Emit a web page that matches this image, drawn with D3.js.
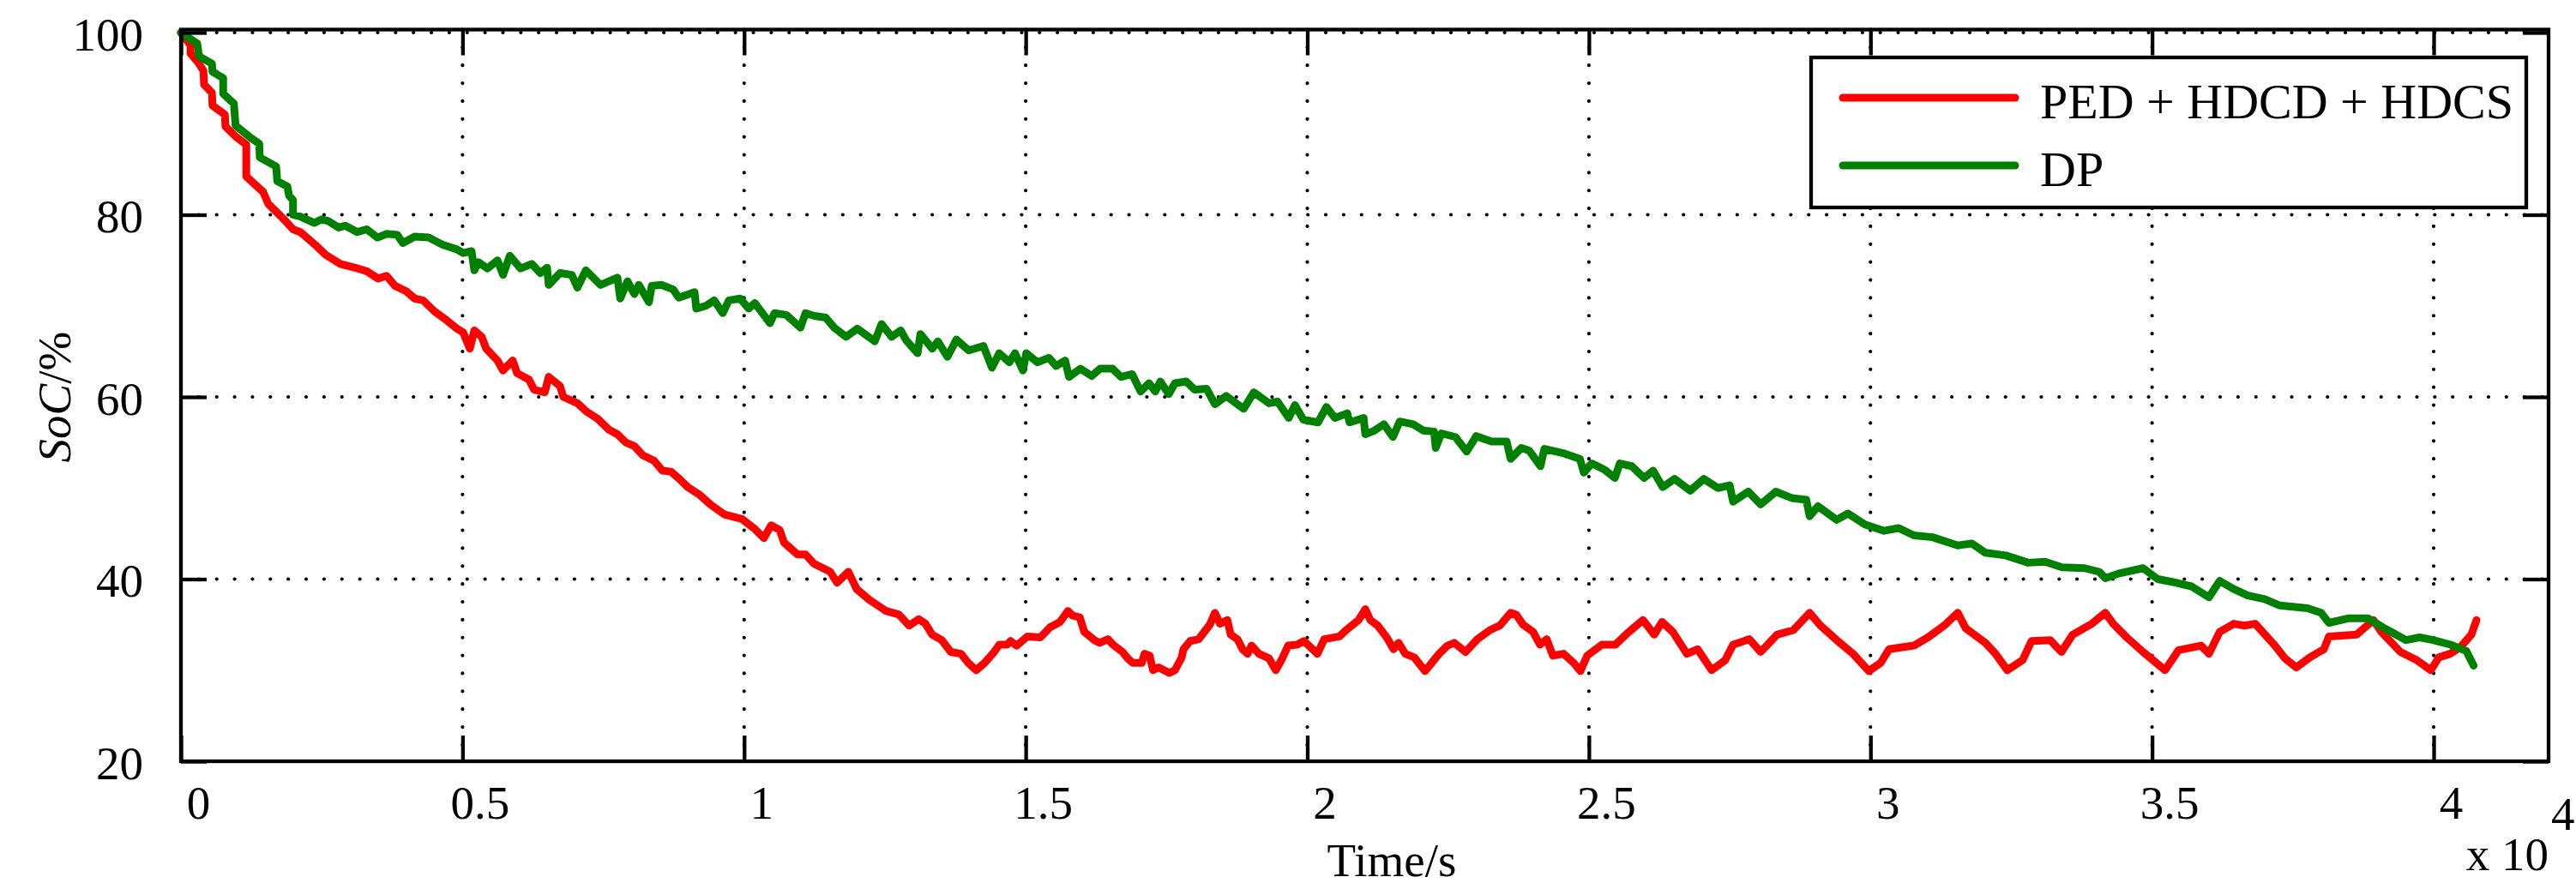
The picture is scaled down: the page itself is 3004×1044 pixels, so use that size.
<!DOCTYPE html>
<html>
<head>
<meta charset="utf-8">
<script src="https://cdn.jsdelivr.net/npm/d3@7"></script>
<style>
  html, body { margin: 0; padding: 0; background: #fff; }
  svg { display: block; }
  text { font-family: "Liberation Serif", "Times New Roman", serif; fill: #000; }
</style>
</head>
<body>
<svg id="chart" width="3004" height="1044"></svg>
<script>
// ---------------- data (time in units of 1e4 s, SoC in %) ----------------
const seriesNames = ["PED + HDCD + HDCS", "DP"];
const seriesColors = ["#ff0000", "#008000"];

const pedTime = [0.000,0.017,0.017,0.032,0.040,0.041,0.055,0.056,0.078,0.079,0.097,0.116,0.116,0.146,0.155,0.186,0.199,0.212,0.242,0.257,0.283,0.314,0.330,0.350,0.365,0.380,0.400,0.415,0.430,0.450,0.470,0.490,0.501,0.513,0.521,0.534,0.542,0.562,0.572,0.589,0.597,0.618,0.627,0.646,0.653,0.673,0.679,0.704,0.720,0.740,0.760,0.775,0.790,0.805,0.820,0.840,0.855,0.870,0.885,0.900,0.920,0.940,0.965,0.996,1.019,1.035,1.048,1.063,1.071,1.095,1.109,1.124,1.153,1.165,1.185,1.200,1.223,1.240,1.252,1.275,1.293,1.310,1.322,1.334,1.351,1.367,1.385,1.398,1.412,1.427,1.444,1.453,1.467,1.473,1.484,1.503,1.526,1.543,1.561,1.575,1.583,1.596,1.604,1.622,1.631,1.646,1.655,1.672,1.681,1.690,1.706,1.711,1.720,1.726,1.736,1.755,1.765,1.777,1.780,1.792,1.807,1.817,1.827,1.836,1.845,1.858,1.864,1.876,1.885,1.894,1.901,1.914,1.932,1.944,1.954,1.966,1.982,1.994,2.018,2.030,2.057,2.069,2.091,2.103,2.112,2.125,2.141,2.153,2.162,2.174,2.190,2.209,2.234,2.249,2.261,2.281,2.302,2.324,2.342,2.361,2.371,2.383,2.401,2.413,2.425,2.436,2.455,2.473,2.485,2.497,2.523,2.547,2.569,2.596,2.616,2.630,2.649,2.674,2.693,2.718,2.742,2.756,2.785,2.805,2.834,2.863,2.892,2.911,2.940,2.969,2.997,3.018,3.033,3.077,3.102,3.131,3.155,3.169,3.204,3.222,3.243,3.270,3.286,3.319,3.339,3.359,3.393,3.417,3.431,3.455,3.484,3.523,3.547,3.587,3.601,3.620,3.645,3.664,3.683,3.718,3.736,3.756,3.780,3.805,3.814,3.863,3.893,3.907,3.941,3.970,3.995,4.009,4.029,4.047,4.067,4.076];
const pedSoC  = [100.0,98.6,97.7,96.6,95.8,94.3,93.4,92.0,91.0,89.7,88.6,87.7,84.2,82.5,81.2,79.3,78.4,78.1,76.5,75.6,74.6,74.1,73.8,73.0,73.3,72.2,71.6,70.8,70.6,69.4,68.5,67.5,67.1,65.3,67.3,66.6,65.3,64.0,62.9,64.0,62.6,61.9,60.8,60.5,62.2,61.2,60.0,59.3,58.4,57.6,56.4,55.9,55.0,54.6,53.6,53.0,51.9,51.8,51.0,50.1,49.3,48.2,47.1,46.6,45.5,44.5,45.9,45.4,44.0,42.7,42.7,41.7,40.8,39.6,40.8,38.9,37.7,37.0,36.5,36.1,34.9,35.6,35.1,33.9,33.3,32.0,31.8,30.8,30.0,30.8,32.0,32.8,32.8,33.2,32.7,33.7,33.6,34.7,35.3,36.5,36.0,35.8,34.2,33.3,33.0,33.4,32.8,32.0,31.3,30.8,30.8,31.8,31.6,30.0,30.3,29.7,30.0,31.4,32.3,33.2,33.4,34.2,35.0,36.3,35.1,35.5,33.9,33.4,32.3,31.8,32.7,31.8,31.3,30.0,31.1,32.7,32.8,33.2,31.8,33.4,33.7,34.4,35.5,36.7,35.5,34.9,33.6,32.3,33.0,31.8,31.4,29.9,31.8,32.7,33.0,32.0,33.4,34.4,34.9,36.3,36.1,35.0,34.2,32.8,33.4,31.6,31.8,30.8,29.9,31.6,32.8,32.8,34.1,35.5,33.9,35.3,34.2,31.8,32.3,30.0,31.1,32.8,33.4,32.0,33.9,34.4,36.3,34.9,33.3,31.8,29.9,30.8,32.3,32.7,33.6,34.9,36.3,34.6,33.0,31.8,30.0,31.1,33.2,33.3,32.0,33.9,35.1,36.3,35.1,33.6,32.0,30.0,32.2,32.7,31.8,34.2,35.1,34.9,35.1,32.7,31.3,30.3,31.4,32.3,33.7,33.9,35.5,34.2,32.0,31.1,30.0,31.4,31.8,32.5,33.9,35.5];

const dpTime = [0.000,0.029,0.032,0.055,0.056,0.075,0.075,0.094,0.097,0.125,0.139,0.140,0.169,0.171,0.189,0.192,0.199,0.199,0.212,0.237,0.250,0.262,0.280,0.292,0.313,0.330,0.349,0.365,0.384,0.394,0.415,0.440,0.465,0.490,0.501,0.516,0.521,0.528,0.544,0.562,0.572,0.584,0.603,0.623,0.638,0.650,0.653,0.673,0.694,0.704,0.719,0.745,0.775,0.780,0.793,0.805,0.813,0.831,0.836,0.853,0.874,0.884,0.912,0.915,0.932,0.947,0.962,0.973,0.993,1.008,1.019,1.046,1.054,1.075,1.100,1.109,1.125,1.145,1.160,1.181,1.201,1.232,1.244,1.262,1.278,1.288,1.308,1.313,1.334,1.344,1.361,1.377,1.399,1.425,1.440,1.453,1.471,1.481,1.495,1.501,1.521,1.541,1.554,1.570,1.577,1.597,1.617,1.632,1.654,1.669,1.689,1.704,1.719,1.730,1.739,1.754,1.765,1.785,1.800,1.821,1.836,1.856,1.887,1.905,1.932,1.947,1.967,1.978,1.993,2.019,2.034,2.049,2.071,2.075,2.100,2.103,2.119,2.136,2.152,2.164,2.188,2.206,2.225,2.228,2.238,2.263,2.283,2.300,2.327,2.354,2.361,2.380,2.394,2.414,2.421,2.456,2.484,2.491,2.505,2.528,2.546,2.555,2.576,2.598,2.614,2.631,2.652,2.680,2.704,2.729,2.750,2.756,2.783,2.805,2.832,2.860,2.886,2.892,2.907,2.940,2.960,2.990,3.024,3.050,3.077,3.110,3.155,3.180,3.204,3.240,3.280,3.310,3.340,3.380,3.406,3.417,3.440,3.484,3.510,3.543,3.570,3.601,3.620,3.645,3.670,3.700,3.727,3.776,3.800,3.814,3.850,3.883,3.910,3.951,3.975,3.999,4.030,4.058,4.071];
const dpSoC  = [100.0,98.8,97.4,96.6,95.7,95.0,93.3,92.2,89.8,88.4,87.8,86.3,85.3,83.7,83.1,82.1,81.6,80.0,79.8,79.1,79.5,79.3,78.6,78.8,78.1,78.4,77.5,77.9,77.8,76.9,77.6,77.5,76.7,76.2,75.8,76.0,73.9,74.8,74.1,75.0,73.4,75.5,74.1,74.6,73.6,74.2,72.3,73.6,73.4,72.0,73.9,72.3,73.1,70.8,72.7,71.3,72.3,70.4,72.2,72.3,71.8,70.9,71.5,69.7,70.0,70.6,69.2,70.6,70.8,69.7,70.3,68.1,69.2,69.0,67.6,69.2,68.9,68.7,67.6,66.6,67.5,66.1,68.0,66.6,67.3,66.2,64.8,66.9,65.3,66.1,64.4,66.3,65.1,65.6,63.2,64.8,63.8,64.8,62.9,64.8,63.8,64.3,63.4,64.0,62.2,63.1,62.3,63.1,63.1,62.2,62.5,60.6,61.5,60.6,61.7,60.3,61.5,61.7,60.8,60.9,59.2,60.1,58.7,60.5,59.3,59.5,57.7,59.1,57.5,57.2,58.9,57.7,58.2,57.2,57.7,55.9,56.3,57.0,55.6,57.3,57.0,56.3,56.2,54.4,56.0,55.6,54.0,55.7,55.1,55.1,53.2,54.4,54.1,52.4,54.3,53.8,53.2,51.7,52.7,52.0,51.1,52.7,52.4,51.1,51.9,50.1,51.0,49.7,51.0,50.0,50.3,48.5,49.6,48.2,49.6,48.9,48.7,46.9,48.0,46.5,47.2,46.0,45.3,45.6,44.8,44.6,43.7,43.9,42.9,42.6,41.8,41.9,41.3,41.2,40.8,40.1,40.6,41.2,40.0,39.6,39.2,38.0,39.8,38.9,38.2,37.8,37.1,36.8,36.3,35.2,35.7,35.7,34.7,33.3,33.6,33.3,32.8,32.1,30.5];

const xTickValues = [0, 0.5, 1, 1.5, 2, 2.5, 3, 3.5, 4];
const xTickLabels = ["0", "0.5", "1", "1.5", "2", "2.5", "3", "3.5", "4"];
const yTickValues = [20, 40, 60, 80, 100];
const yTickLabels = ["20", "40", "60", "80", "100"];

// ---------------- layout ----------------
const L = 211, R = 2972, T = 34.5, B = 888;
const svg = d3.select("#chart");
const x = d3.scaleLinear().domain([0, 4.204]).range([L, R]);
const y = d3.scaleLinear().domain([20, 100.33]).range([B, T]);

const FS = 55;
const FONT = '"Liberation Serif", "Times New Roman", serif';

// grid
const grid = svg.append("g").attr("stroke", "#000").attr("stroke-width", 4.2)
  .attr("stroke-linecap", "round").attr("stroke-dasharray", "0.01 20.85");
grid.selectAll("line.v").data(xTickValues.filter(d => d > 0)).join("line")
  .attr("x1", d => x(d)).attr("x2", d => x(d)).attr("y1", T).attr("y2", B);
grid.selectAll("line.h").data(yTickValues.filter(d => d > 20)).join("line")
  .attr("x1", L).attr("x2", R).attr("y1", d => y(d)).attr("y2", d => y(d));

// data lines
const series = [
  {name: seriesNames[0], color: seriesColors[0], pts: pedTime.map((t, i) => [t, pedSoC[i]])},
  {name: seriesNames[1], color: seriesColors[1], pts: dpTime.map((t, i) => [t, dpSoC[i]])}
];
const line = d3.line().x(d => x(d[0])).y(d => y(d[1]));
svg.append("g").selectAll("path").data(series).join("path")
  .attr("d", d => line(d.pts)).attr("fill", "none")
  .attr("stroke", d => d.color).attr("stroke-width", 9)
  .attr("stroke-linejoin", "round").attr("stroke-linecap", "round");

// axes
const TK = 30;
function styleAxis(g) {
  g.select(".domain").remove();
  g.selectAll(".tick line").attr("stroke", "#000").attr("stroke-width", 4.3);
  g.selectAll("text").attr("font-family", FONT).attr("font-size", FS).attr("fill", "#000");
}
svg.append("g").attr("transform", `translate(0,${B})`)
  .call(d3.axisBottom(x).tickValues(xTickValues).tickFormat((d, i) => xTickLabels[i])
    .tickSizeInner(-TK).tickSizeOuter(0).tickPadding(0))
  .call(styleAxis)
  .call(g => g.selectAll("text").attr("y", 67).attr("dy", 0).attr("dx", 20));
svg.append("g").attr("transform", `translate(0,${T})`)
  .call(d3.axisTop(x).tickValues(xTickValues).tickFormat("").tickSizeInner(-TK).tickSizeOuter(0))
  .call(styleAxis);
svg.append("g").attr("transform", `translate(${L},0)`)
  .call(d3.axisLeft(y).tickValues(yTickValues).tickFormat((d, i) => yTickLabels[i])
    .tickSizeInner(-TK).tickSizeOuter(0).tickPadding(0))
  .call(styleAxis)
  .call(g => g.selectAll("text").attr("x", -44).attr("dy", "0.37em"));
svg.append("g").attr("transform", `translate(${R},0)`)
  .call(d3.axisRight(y).tickValues(yTickValues).tickFormat("").tickSizeInner(-TK).tickSizeOuter(0))
  .call(styleAxis);

// frame
svg.append("rect").attr("x", L).attr("y", T).attr("width", R - L).attr("height", B - T)
  .attr("fill", "none").attr("stroke", "#000").attr("stroke-width", 4.3);

// axis labels
svg.append("text").attr("x", 1623).attr("y", 1022).attr("text-anchor", "middle")
  .attr("font-size", FS).text("Time/s");
const yl = svg.append("text").attr("transform", "translate(63,463) rotate(-90)")
  .attr("text-anchor", "middle").attr("dy", "0.35em").attr("font-size", FS);
yl.append("tspan").attr("font-style", "italic").text("SoC");
yl.append("tspan").text("/%");

// exponent
svg.append("text").attr("x", 2972).attr("y", 1015).attr("text-anchor", "end")
  .attr("font-size", FS).text("x 10");
svg.append("text").attr("x", 2975).attr("y", 968).attr("font-size", FS).text("4");

// legend
const lg = svg.append("g");
lg.append("rect").attr("x", 2112).attr("y", 67).attr("width", 2946 - 2112).attr("height", 242 - 67)
  .attr("fill", "#fff").attr("stroke", "#000").attr("stroke-width", 4.3);
const ly = [114, 193];
lg.selectAll("line").data(series).join("line")
  .attr("x1", 2149).attr("x2", 2350).attr("y1", (d, i) => ly[i]).attr("y2", (d, i) => ly[i])
  .attr("stroke", d => d.color).attr("stroke-width", 9).attr("stroke-linecap", "round");
lg.selectAll("text").data(series).join("text")
  .attr("x", 2379).attr("y", (d, i) => ly[i] + 24).attr("font-size", 58).text(d => d.name);
</script>
</body>
</html>
